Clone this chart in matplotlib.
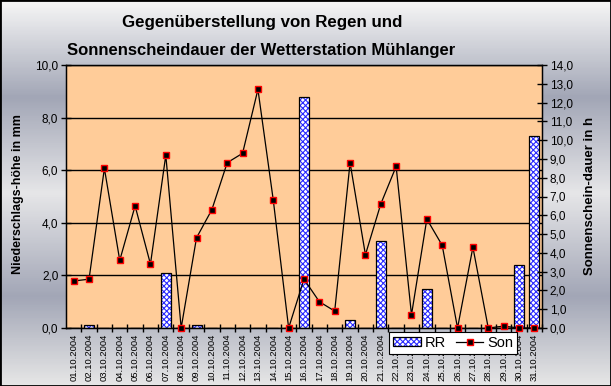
import numpy as np
import matplotlib
matplotlib.use('Agg')
import matplotlib.pyplot as plt
from matplotlib.patches import Patch, Rectangle
from matplotlib.lines import Line2D
from matplotlib.colors import LinearSegmentedColormap

# Daily data October 2004
dates = [f'{d:02d}.10.2004' for d in range(1, 32)]
rr = [0.0, 0.1, 0.0, 0.0, 0.0, 0.0, 2.1, 0.0, 0.1, 0.0,
      0.0, 0.0, 0.0, 0.0, 0.0, 8.8, 0.0, 0.0, 0.3, 0.0,
      3.3, 0.0, 0.0, 1.5, 0.0, 0.0, 0.0, 0.0, 0.0, 2.4, 7.3]
son = [2.5, 2.6, 8.5, 3.6, 6.5, 3.4, 9.2, 0.0, 4.8, 6.3,
       8.8, 9.3, 12.7, 6.8, 0.0, 2.6, 1.4, 0.9, 8.8, 3.9,
       6.6, 8.6, 0.7, 5.8, 4.4, 0.0, 4.3, 0.0, 0.1, 0.0, 0.0]
rr_ticks = [0, 2, 4, 6, 8, 10]
son_ticks = list(range(0, 15))

plt.rcParams['font.family'] = 'Liberation Sans'
plt.rcParams['hatch.linewidth'] = 0.8

fig = plt.figure(figsize=(6.11, 3.86), dpi=100)

# grey gradient background of the chart area
bg = fig.add_axes([0, 0, 1, 1], zorder=-10)
cmap = LinearSegmentedColormap.from_list('bg', [
    (0.0, '#f6f6f6'), (0.25, '#a2a6b6'), (0.5, '#e6e6e8'),
    (0.77, '#a2a6b6'), (1.0, '#e6e6e6')])
bg.imshow(np.linspace(0, 1, 200).reshape(-1, 1), aspect='auto', cmap=cmap,
          extent=[0, 1, 0, 1], origin='upper')
bg.set_axis_off()
fig.patches.append(Rectangle((0, 0), 1, 1, transform=fig.transFigure,
                             fill=False, edgecolor='black', linewidth=2))

ax = fig.add_axes([66 / 611, 1 - 328 / 386, 476 / 611, 263 / 386])
ax.set_facecolor('#ffcc99')
x = np.arange(len(dates))

ax.bar(x, rr, width=0.65, color='white', edgecolor='#2b2bff', hatch='xxxxxx',
       linewidth=0, zorder=2)
ax.bar(x, rr, width=0.65, fill=False, edgecolor='black', linewidth=0.9, zorder=3)

ax.set_xlim(-0.5, len(dates) - 0.5)
ax.set_ylim(0, 10)
ax.set_yticks(rr_ticks)
ax.set_yticklabels([f'{v:.1f}'.replace('.', ',') for v in rr_ticks], fontsize=8.5)
ax.yaxis.grid(True, color='black', linewidth=1)
ax.set_axisbelow(True)
ax.tick_params(axis='y', direction='inout', length=7, width=1, pad=2)

ax.set_xticks(x + 0.5)
ax.set_xticklabels([])
ax.set_xticks(x, minor=True)
ax.set_xticklabels(dates, minor=True, rotation=90, fontsize=6.8)
ax.tick_params(axis='x', which='major', direction='inout', length=6, width=1)
ax.tick_params(axis='x', which='minor', length=0, pad=4)
for s in ax.spines.values():
    s.set_linewidth(1)

ax2 = ax.twinx()
ax2.plot(x, son, color='black', linewidth=0.9, marker='s', markersize=5,
         markerfacecolor='black', markeredgecolor='red', markeredgewidth=1,
         clip_on=False, zorder=5)
ax2.set_ylim(0, 14)
ax2.set_yticks(son_ticks)
ax2.set_yticklabels([f'{v:.1f}'.replace('.', ',') for v in son_ticks], fontsize=8.5)
ax2.tick_params(axis='y', direction='inout', length=7, width=1, pad=2)

fig.text(18 / 611, 1 - 194 / 386, 'Niederschlags-höhe in mm', rotation=90,
         ha='center', va='center', fontsize=9, fontweight='bold')
fig.text(590 / 611, 1 - 196 / 386, 'Sonnenschein-dauer in h', rotation=90,
         ha='center', va='center', fontsize=9.5, fontweight='bold')

fig.text(262 / 611, 1 - 22 / 386, 'Gegenüberstellung von Regen und',
         ha='center', va='center', fontsize=12.2, fontweight='bold')
fig.text(261 / 611, 1 - 50 / 386, 'Sonnenscheindauer der Wetterstation Mühlanger',
         ha='center', va='center', fontsize=12, fontweight='bold')

rr_handle = (Patch(facecolor='white', edgecolor='#2b2bff', hatch='xxxxxx', linewidth=0),
             Patch(fill=False, edgecolor='black', linewidth=0.9))
son_handle = Line2D([], [], color='black', linewidth=0.9, marker='s', markersize=5,
                    markerfacecolor='black', markeredgecolor='red')
leg = fig.legend([rr_handle, son_handle], ['RR', 'Son'], ncol=2,
                 loc='center', bbox_to_anchor=(453 / 611, 1 - 343 / 386),
                 fontsize=10.5, frameon=True, fancybox=False, framealpha=1,
                 edgecolor='black', borderpad=0.25, handlelength=1.9,
                 handleheight=0.6, handletextpad=0.25, columnspacing=0.7,
                 borderaxespad=0)
leg.get_frame().set_linewidth(0.8)

fig.savefig('out.png', dpi=100)
